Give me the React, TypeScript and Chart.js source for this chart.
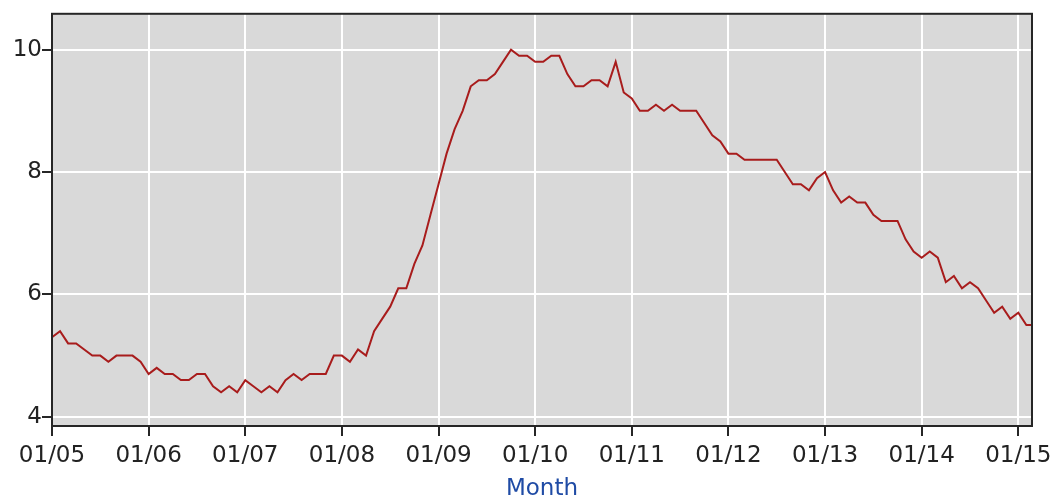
import React, { useEffect, useRef } from "react";
import { Chart, registerables } from "chart.js";

Chart.register(...registerables);

// Monthly unemployment rate (%), Jan 2005 – Mar 2015
const rate2005 = [5.3, 5.4, 5.2, 5.2, 5.1, 5.0, 5.0, 4.9, 5.0, 5.0, 5.0, 4.9];
const rate2006 = [4.7, 4.8, 4.7, 4.7, 4.6, 4.6, 4.7, 4.7, 4.5, 4.4, 4.5, 4.4];
const rate2007 = [4.6, 4.5, 4.4, 4.5, 4.4, 4.6, 4.7, 4.6, 4.7, 4.7, 4.7, 5.0];
const rate2008 = [5.0, 4.9, 5.1, 5.0, 5.4, 5.6, 5.8, 6.1, 6.1, 6.5, 6.8, 7.3];
const rate2009 = [7.8, 8.3, 8.7, 9.0, 9.4, 9.5, 9.5, 9.6, 9.8, 10.0, 9.9, 9.9];
const rate2010 = [9.8, 9.8, 9.9, 9.9, 9.6, 9.4, 9.4, 9.5, 9.5, 9.4, 9.8, 9.3];
const rate2011 = [9.2, 9.0, 9.0, 9.1, 9.0, 9.1, 9.0, 9.0, 9.0, 8.8, 8.6, 8.5];
const rate2012 = [8.3, 8.3, 8.2, 8.2, 8.2, 8.2, 8.2, 8.0, 7.8, 7.8, 7.7, 7.9];
const rate2013 = [8.0, 7.7, 7.5, 7.6, 7.5, 7.5, 7.3, 7.2, 7.2, 7.2, 6.9, 6.7];
const rate2014 = [6.6, 6.7, 6.6, 6.2, 6.3, 6.1, 6.2, 6.1, 5.9, 5.7, 5.8, 5.6];
const rate2015 = [5.7, 5.5, 5.5];

const rates = [
  ...rate2005, ...rate2006, ...rate2007, ...rate2008, ...rate2009, ...rate2010,
  ...rate2011, ...rate2012, ...rate2013, ...rate2014, ...rate2015,
];

const xTickMonths = [0, 12, 24, 36, 48, 60, 72, 84, 96, 108, 120];
const xTickLabels = ["01/05", "01/06", "01/07", "01/08", "01/09", "01/10", "01/11", "01/12", "01/13", "01/14", "01/15"];
const yTickValues = [4, 6, 8, 10];
const yTickLabels = ["4", "6", "8", "10"];
const xAxisTitle = "Month";

const FONT = "'DejaVu Sans', 'Liberation Sans', sans-serif";

const plotFrame = {
  id: "plotFrame",
  beforeDraw(chart: any) {
    const { ctx, chartArea: a } = chart;
    ctx.save();
    ctx.fillStyle = "#ffffff";
    ctx.fillRect(0, 0, chart.width, chart.height);
    ctx.fillStyle = "#d9d9d9";
    ctx.fillRect(a.left, a.top, a.right - a.left, a.bottom - a.top);
    ctx.restore();
  },
  afterDraw(chart: any) {
    const { ctx, chartArea: a } = chart;
    ctx.save();
    ctx.strokeStyle = "#262626";
    ctx.lineWidth = 2;
    ctx.strokeRect(a.left, a.top, a.right - a.left, a.bottom - a.top);
    ctx.restore();
  },
};

export default function App() {
  const ref = useRef<HTMLCanvasElement | null>(null);

  useEffect(() => {
    if (!ref.current) return;
    const chart = new Chart(ref.current, {
      type: "line",
      data: {
        datasets: [
          {
            data: rates.map((v, i) => ({ x: i, y: v })),
            borderColor: "#a81c1c",
            borderWidth: 2,
            pointRadius: 0,
            tension: 0,
            fill: false,
          },
        ],
      },
      options: {
        animation: false,
        responsive: false,
        events: [],
        layout: { padding: { left: 0, top: 12, right: 29, bottom: 0 } },
        plugins: {
          legend: { display: false },
          tooltip: { enabled: false },
        },
        scales: {
          x: {
            type: "linear",
            min: 0,
            max: 121.7,
            afterBuildTicks: (scale: any) => {
              scale.ticks = xTickMonths.map((v) => ({ value: v }));
            },
            afterFit: (scale: any) => {
              scale.height = 73;
            },
            grid: {
              color: "#ffffff",
              lineWidth: 2,
              tickColor: "#262626",
              tickWidth: 2,
              tickLength: 10,
              drawTicks: true,
            },
            border: { display: false },
            ticks: {
              autoSkip: false,
              maxRotation: 0,
              padding: 6,
              color: "#222222",
              font: { family: FONT, size: 23 },
              callback: (value: any) => {
                const i = xTickMonths.indexOf(Number(value));
                return i >= 0 ? xTickLabels[i] : "";
              },
            },
            title: {
              display: true,
              text: xAxisTitle,
              color: "#1f4ba5",
              font: { family: FONT, size: 23, lineHeight: 1 },
              padding: { top: 0, bottom: -2 },
            },
          },
          y: {
            type: "linear",
            min: 3.85,
            max: 10.585,
            afterBuildTicks: (scale: any) => {
              scale.ticks = yTickValues.map((v) => ({ value: v }));
            },
            afterFit: (scale: any) => {
              scale.width = 52;
            },
            grid: {
              color: "#ffffff",
              lineWidth: 2,
              tickColor: "#262626",
              tickWidth: 2,
              tickLength: 10,
            },
            border: { display: false },
            ticks: {
              padding: 0,
              color: "#222222",
              font: { family: FONT, size: 23 },
              callback: (value: any) => {
                const i = yTickValues.indexOf(Number(value));
                return i >= 0 ? yTickLabels[i] : "";
              },
            },
          },
        },
      },
      plugins: [plotFrame],
    });
    return () => chart.destroy();
  }, []);

  return (
    <div style={{ position: "fixed", left: 0, top: 0, width: 1061, height: 499 }}>
      <canvas ref={ref} width={1061} height={499} style={{ display: "block" }} />
    </div>
  );
}
